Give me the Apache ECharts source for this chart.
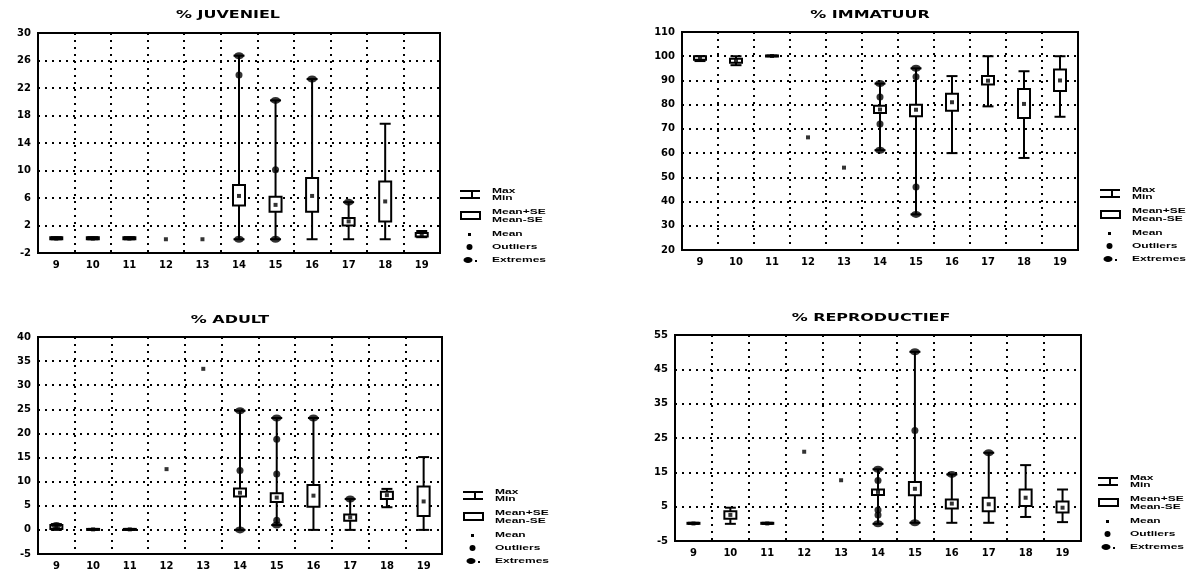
<!DOCTYPE html>
<html>
<head>
<meta charset="utf-8">
<script src="https://cdn.jsdelivr.net/npm/echarts@6/dist/echarts.min.js"></script>
<style>
html, body { margin: 0; background: #fff; }
#chart { width: 1197px; height: 571px; }
</style>
</head>
<body>
<div id="chart"></div>
<script>
const cats = ['9', '10', '11', '12', '13', '14', '15', '16', '17', '18', '19'];

// % JUVENIEL
const juvMin  = [0, 0, 0, null, null, 0, 0, 0, 0, 0, 0.3];
const juvMax  = [0.3, 0.3, 0.3, null, null, 26.7, 20.2, 23.3, 5.4, 16.8, 1.2];
const juvLo   = [0, 0, 0, null, null, 4.9, 4.0, 4.0, 2.0, 2.6, 0.4];
const juvHi   = [0.3, 0.3, 0.3, null, null, 7.9, 6.2, 8.9, 3.1, 8.4, 0.9];
const juvMean = [0.1, 0.1, 0.1, 0, 0, 6.3, 5.0, 6.3, 2.6, 5.5, 0.6];
const juvOutliers = [[5, 23.9], [6, 10.1]];
const juvExtremes = [[5, 26.7], [5, 0], [6, 20.2], [6, 0], [7, 23.3], [8, 5.4]];

// % IMMATUUR
const immMin  = [98, 96.3, 100, null, null, 61.2, 34.7, 60, 79.3, 58, 75];
const immMax  = [100, 100, 100.3, null, null, 88.7, 95, 91.8, 100, 93.8, 100];
const immLo   = [98.5, 97.3, 100, null, null, 76.6, 75.2, 77.5, 88.3, 74.5, 85.6];
const immHi   = [100, 99, 100.3, null, null, 79.6, 80, 84.5, 91.8, 86.5, 94.5];
const immMean = [99.3, 98, 100.1, 66.5, 54, 78, 77.9, 81, 89.9, 80.3, 90];
const immOutliers = [[5, 83.2], [5, 72], [6, 91.5], [6, 46]];
const immExtremes = [[5, 88.7], [5, 61.2], [6, 95], [6, 34.7]];

// % ADULT
const adMin  = [0, 0, 0, null, null, 0, 1.0, 0, 0, 4.7, 0];
const adMax  = [1.2, 0.2, 0.2, null, null, 24.7, 23.2, 23.2, 6.4, 8.5, 15.1];
const adLo   = [0.2, 0, 0, null, null, 6.9, 5.8, 4.8, 1.9, 6.4, 2.9];
const adHi   = [1.0, 0.2, 0.2, null, null, 8.6, 7.6, 9.3, 3.2, 7.9, 9.0];
const adMean = [0.6, 0.1, 0.1, 12.6, 33.4, 7.7, 6.7, 7.1, 2.6, 7.2, 5.9];
const adOutliers = [[5, 12.3], [6, 18.8], [6, 11.6], [6, 2.0]];
const adExtremes = [[0, 0.9], [5, 24.7], [5, 0], [6, 23.2], [6, 1.0], [7, 23.2], [8, 6.4]];

// % REPRODUCTIEF
const repMin  = [0, 0, 0, null, null, 0, 0.3, 0.3, 0.3, 2.0, 0.5];
const repMax  = [0.3, 4.7, 0.3, null, null, 15.9, 50.1, 14.4, 20.7, 17.1, 10];
const repLo   = [0, 1.5, 0, null, null, 8.4, 8.3, 4.5, 3.7, 5.2, 3.3];
const repHi   = [0.3, 3.7, 0.3, null, null, 10.0, 12.2, 7.1, 7.6, 10.0, 6.5];
const repMean = [0.1, 2.6, 0.1, 21, 12.7, 9.3, 10.2, 5.9, 5.7, 7.6, 4.7];
const repOutliers = [[5, 12.6], [5, 4.0], [5, 2.6], [6, 27.2]];
const repExtremes = [[5, 15.9], [5, 0], [6, 50.1], [6, 0.3], [7, 14.4], [8, 20.7]];

const panels = [
    { title: '% JUVENIEL', yMin: -2, yMax: 30, step: 4,
      grid: { left: 38, top: 33, right: 757, bottom: 318 }, titlePos: [228, 15], legendPos: [460, 191],
      min: juvMin, max: juvMax, lo: juvLo, hi: juvHi, mean: juvMean, outliers: juvOutliers, extremes: juvExtremes },
    { title: '% IMMATUUR', yMin: 20, yMax: 110, step: 10,
      grid: { left: 682, top: 32, right: 119, bottom: 321 }, titlePos: [870, 15], legendPos: [1100, 190],
      min: immMin, max: immMax, lo: immLo, hi: immHi, mean: immMean, outliers: immOutliers, extremes: immExtremes },
    { title: '% ADULT', yMin: -5, yMax: 40, step: 5,
      grid: { left: 38, top: 337, right: 755, bottom: 15 }, titlePos: [230, 320], legendPos: [463, 492],
      min: adMin, max: adMax, lo: adLo, hi: adHi, mean: adMean, outliers: adOutliers, extremes: adExtremes },
    { title: '% REPRODUCTIEF', yMin: -5, yMax: 55, step: 10,
      grid: { left: 675, top: 335, right: 116, bottom: 30 }, titlePos: [871, 318], legendPos: [1098, 478],
      min: repMin, max: repMax, lo: repLo, hi: repHi, mean: repMean, outliers: repOutliers, extremes: repExtremes }
];

const dotted = { color: '#000', width: 2, type: [2, 5] };
const labelFont = { color: '#000', fontFamily: 'DejaVu Sans', fontWeight: 'bold', fontSize: 10 };

function renderBox(params, api) {
    const x = api.value(0);
    const pMin = api.coord([x, api.value(1)]);
    const pMax = api.coord([x, api.value(2)]);
    const pLo = api.coord([x, api.value(3)]);
    const pHi = api.coord([x, api.value(4)]);
    const cx = pMin[0];
    const capW = 11, boxW = 12;
    const st = { stroke: '#000', lineWidth: 2 };
    return {
        type: 'group',
        children: [
            { type: 'line', shape: { x1: cx, y1: pMin[1], x2: cx, y2: pMax[1] }, style: st },
            { type: 'line', shape: { x1: cx - capW / 2, y1: pMin[1], x2: cx + capW / 2, y2: pMin[1] }, style: st },
            { type: 'line', shape: { x1: cx - capW / 2, y1: pMax[1], x2: cx + capW / 2, y2: pMax[1] }, style: st },
            { type: 'rect', shape: { x: cx - boxW / 2, y: pHi[1], width: boxW, height: Math.max(pLo[1] - pHi[1], 1) },
              style: { fill: '#fff', stroke: '#000', lineWidth: 2 } }
        ]
    };
}

function legendGroup(x, y) {
    const txt = (t, dy) => ({
        type: 'text', x: x + 32, y: y + dy, scaleX: 1.6,
        style: { text: t, font: 'bold 7.5px "Liberation Sans"', fill: '#000', textVerticalAlign: 'middle' }
    });
    const ln = { stroke: '#000', lineWidth: 2 };
    return [
        { type: 'line', shape: { x1: x, y1: y, x2: x + 20, y2: y }, style: ln },
        { type: 'line', shape: { x1: x, y1: y + 7, x2: x + 20, y2: y + 7 }, style: ln },
        { type: 'line', shape: { x1: x + 12, y1: y, x2: x + 12, y2: y + 7 }, style: ln },
        txt('Max', 0), txt('Min', 7),
        { type: 'rect', shape: { x: x + 1, y: y + 21, width: 19, height: 7 }, style: { fill: '#fff', stroke: '#000', lineWidth: 2 } },
        txt('Mean+SE', 21), txt('Mean-SE', 29),
        { type: 'rect', shape: { x: x + 8, y: y + 42, width: 3, height: 3 }, style: { fill: '#000' } },
        txt('Mean', 43),
        { type: 'circle', shape: { cx: x + 9.5, cy: y + 56, r: 3 }, style: { fill: '#000' } },
        txt('Outliers', 56),
        { type: 'ellipse', shape: { cx: x + 8, cy: y + 69, rx: 4.5, ry: 3 }, style: { fill: '#000' } },
        { type: 'rect', shape: { x: x + 15, y: y + 69, width: 2, height: 2 }, style: { fill: '#000' } },
        txt('Extremes', 69)
    ];
}

const grids = [], xAxes = [], yAxes = [], series = [], graphics = [];
panels.forEach((p, i) => {
    grids.push(Object.assign({ show: true, borderColor: '#000', borderWidth: 2, backgroundColor: '#fff' }, p.grid));
    xAxes.push({
        type: 'category', gridIndex: i, data: cats, boundaryGap: true,
        axisLine: { show: false }, axisTick: { show: false },
        axisLabel: Object.assign({ interval: 0, margin: 7 }, labelFont),
        splitLine: { show: true, interval: 0, lineStyle: dotted }
    });
    yAxes.push({
        type: 'value', gridIndex: i, min: p.yMin, max: p.yMax, interval: p.step,
        axisLine: { show: false }, axisTick: { show: false },
        axisLabel: Object.assign({ margin: 7 }, labelFont),
        splitLine: { show: true, lineStyle: dotted }
    });
    const boxData = [];
    p.min.forEach((v, k) => {
        if (v !== null) boxData.push([k, v, p.max[k], p.lo[k], p.hi[k]]);
    });
    series.push({
        type: 'custom', xAxisIndex: i, yAxisIndex: i, renderItem: renderBox,
        encode: { x: 0, y: [1, 2, 3, 4] }, data: boxData, z: 3
    });
    series.push({
        type: 'scatter', xAxisIndex: i, yAxisIndex: i, symbol: 'rect', symbolSize: 4,
        itemStyle: { color: '#000' }, data: p.mean.map((v, k) => [k, v]), z: 5
    });
    series.push({
        type: 'scatter', xAxisIndex: i, yAxisIndex: i, symbol: 'circle', symbolSize: 7,
        itemStyle: { color: '#000' }, data: p.outliers, z: 4
    });
    series.push({
        type: 'scatter', xAxisIndex: i, yAxisIndex: i, symbol: 'circle', symbolSize: [10, 7],
        itemStyle: { color: '#000' }, data: p.extremes, z: 4
    });
    graphics.push({
        type: 'text', x: p.titlePos[0], y: p.titlePos[1], scaleX: 1.45,
        style: { text: p.title, font: 'bold 11px "DejaVu Sans"', fill: '#000', textAlign: 'center', textVerticalAlign: 'middle' }
    });
    legendGroup(p.legendPos[0], p.legendPos[1]).forEach(g => graphics.push(g));
});

const chart = echarts.init(document.getElementById('chart'), null, { renderer: 'canvas' });
chart.setOption({
    animation: false,
    backgroundColor: '#fff',
    grid: grids,
    xAxis: xAxes,
    yAxis: yAxes,
    series: series,
    graphic: graphics
});
</script>
</body>
</html>
